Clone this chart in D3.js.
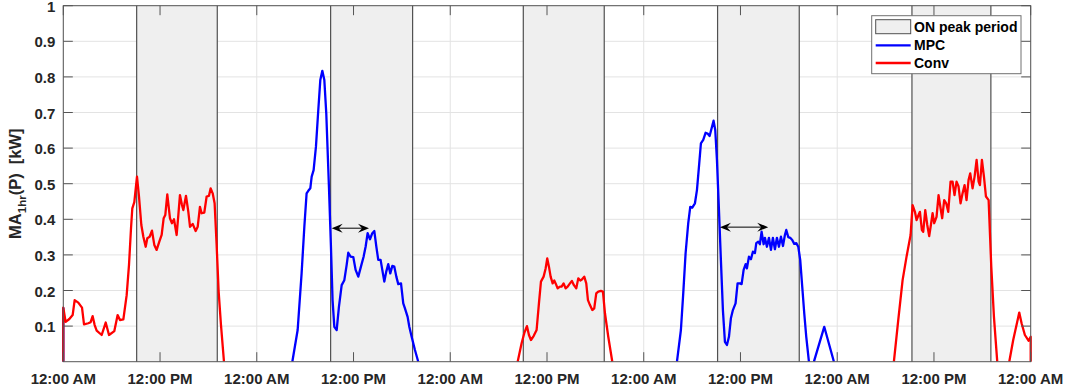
<!DOCTYPE html>
<html><head><meta charset="utf-8">
<script src="https://cdn.jsdelivr.net/npm/d3@7"></script>
<style>
body{margin:0;background:#fff;}
text{font-family:"Liberation Sans",Arial,Helvetica,sans-serif;font-weight:bold;fill:#262626;}
</style>
</head><body>
<svg id="c" width="1068" height="389"></svg>
<script>
// ---------------- data ----------------
const xTickHours = [0,12,24,36,48,60,72,84,96,108,120];
const xTickLabels = ["12:00 AM","12:00 PM","12:00 AM","12:00 PM","12:00 AM","12:00 PM","12:00 AM","12:00 PM","12:00 AM","12:00 PM","12:00 AM"];
const yTicks = [0.1,0.2,0.3,0.4,0.5,0.6,0.7,0.8,0.9,1];
const yTickLabels = ["0.1","0.2","0.3","0.4","0.5","0.6","0.7","0.8","0.9","1"];

// ON peak periods (hours since start)
const peakStart = [9.10, 33.16, 57.06, 81.16, 105.27];
const peakEnd   = [19.10, 43.33, 67.10, 91.29, 115.06];

// MPC series segments [hour, kW]
const mpcSeg0 = [[0,0.152],[0,0]];
const mpcSeg2 = [[28.41,0],[29.07,0.089],[29.56,0.248],[29.90,0.379],[30.18,0.473],[30.39,0.480],[30.64,0.487],[30.81,0.520],[31.05,0.538],[31.34,0.604],[31.63,0.707],[31.88,0.791],[32.13,0.817],[32.38,0.791],[32.62,0.698],[32.95,0.492],[33.20,0.323],[33.40,0.173],[33.62,0.098],[33.91,0.089],[34.19,0.154],[34.53,0.215],[34.86,0.229],[35.15,0.272],[35.35,0.306],[35.64,0.295],[35.97,0.294],[36.26,0.258],[36.59,0.239],[36.92,0.267],[37.25,0.295],[37.50,0.323],[37.75,0.361],[38.04,0.344],[38.33,0.361],[38.58,0.367],[38.83,0.323],[39.07,0.286],[39.36,0.286],[39.57,0.258],[39.82,0.225],[40.06,0.253],[40.31,0.274],[40.56,0.248],[40.81,0.269],[41.06,0.267],[41.31,0.239],[41.55,0.218],[41.89,0.220],[42.17,0.164],[42.38,0.150],[42.71,0.126],[42.92,0.098],[43.21,0.070],[43.62,0.033],[44.03,0]];
const mpcSeg4 = [[76.12,0],[76.61,0.089],[76.90,0.192],[77.19,0.304],[77.52,0.389],[77.77,0.435],[78.02,0.433],[78.35,0.445],[78.60,0.482],[78.85,0.548],[79.09,0.613],[79.38,0.623],[79.67,0.643],[79.92,0.641],[80.17,0.634],[80.42,0.656],[80.66,0.677],[80.87,0.651],[81.08,0.567],[81.33,0.426],[81.57,0.286],[81.82,0.145],[82.07,0.056],[82.32,0.047],[82.57,0.070],[82.81,0.122],[83.06,0.145],[83.39,0.164],[83.64,0.220],[83.89,0.220],[84.14,0.218],[84.39,0.258],[84.64,0.274],[84.80,0.262],[85.05,0.295],[85.30,0.288],[85.54,0.309],[85.79,0.305],[85.96,0.333],[86.20,0.337],[86.41,0.330],[86.62,0.365],[86.87,0.330],[87.03,0.348],[87.28,0.323],[87.53,0.348],[87.78,0.314],[88.02,0.348],[88.27,0.316],[88.52,0.348],[88.77,0.323],[89.02,0.351],[89.27,0.325],[89.51,0.356],[89.68,0.370],[89.93,0.350],[90.17,0.348],[90.42,0.342],[90.67,0.331],[90.92,0.333],[91.17,0.323],[91.41,0.286],[91.66,0.211],[91.91,0.136],[92.16,0.070],[92.49,0]];
const mpcSeg4b = [[93.11,0],[94.39,0.098],[95.59,0]];

// Conventional series segments [hour, kW]
const convSeg1 = [[0,0],[0,0.152],[0.29,0.112],[0.75,0.120],[1.16,0.131],[1.41,0.173],[1.86,0.166],[2.32,0.152],[2.57,0.105],[3.10,0.108],[3.39,0.111],[3.64,0.128],[3.89,0.103],[4.14,0.087],[4.76,0.075],[5.26,0.110],[5.67,0.075],[6.33,0.086],[6.74,0.131],[7.03,0.117],[7.45,0.119],[7.86,0.187],[8.15,0.272],[8.40,0.375],[8.56,0.431],[8.81,0.448],[9.14,0.520],[9.39,0.464],[9.68,0.384],[9.93,0.351],[10.22,0.323],[10.42,0.347],[10.71,0.351],[11.00,0.368],[11.29,0.328],[11.58,0.314],[11.91,0.337],[12.20,0.356],[12.45,0.403],[12.65,0.412],[12.90,0.470],[13.23,0.403],[13.48,0.389],[13.73,0.400],[14.06,0.356],[14.27,0.412],[14.47,0.468],[14.72,0.440],[14.89,0.426],[15.22,0.466],[15.51,0.421],[15.72,0.379],[16.05,0.387],[16.42,0.367],[16.67,0.379],[16.95,0.435],[17.16,0.417],[17.49,0.419],[17.78,0.464],[18.07,0.466],[18.28,0.487],[18.53,0.473],[18.77,0.445],[19.02,0.328],[19.27,0.197],[19.56,0.103],[19.93,0]];
const convSeg3 = [[56.36,0],[56.85,0.052],[57.18,0.080],[57.51,0.100],[57.76,0.075],[58.01,0.061],[58.34,0.072],[58.71,0.089],[59.00,0.164],[59.25,0.225],[59.58,0.239],[59.83,0.262],[60.03,0.290],[60.24,0.267],[60.45,0.239],[60.70,0.220],[60.90,0.228],[61.07,0.220],[61.32,0.206],[61.61,0.211],[61.81,0.211],[62.06,0.220],[62.31,0.206],[62.56,0.211],[62.85,0.220],[63.09,0.227],[63.34,0.215],[63.63,0.206],[63.88,0.234],[64.13,0.228],[64.33,0.231],[64.62,0.239],[64.87,0.220],[65.08,0.173],[65.33,0.159],[65.62,0.145],[65.86,0.150],[66.11,0.192],[66.36,0.197],[66.69,0.199],[66.94,0.197],[67.19,0.136],[67.60,0.070],[68.10,0]];
const convSeg5 = [[103.03,0],[103.57,0.117],[104.11,0.229],[104.60,0.295],[105.10,0.356],[105.35,0.440],[105.64,0.421],[105.84,0.398],[106.09,0.412],[106.26,0.421],[106.50,0.370],[106.67,0.365],[106.92,0.426],[107.17,0.384],[107.41,0.353],[107.62,0.384],[107.83,0.417],[108.03,0.389],[108.32,0.407],[108.57,0.468],[108.82,0.431],[109.02,0.403],[109.27,0.454],[109.52,0.445],[109.77,0.421],[110.06,0.506],[110.31,0.506],[110.55,0.468],[110.80,0.506],[111.05,0.492],[111.30,0.445],[111.55,0.473],[111.80,0.496],[112.04,0.454],[112.29,0.510],[112.50,0.529],[112.79,0.487],[113.04,0.520],[113.29,0.567],[113.54,0.506],[113.70,0.496],[113.95,0.567],[114.20,0.520],[114.45,0.464],[114.78,0.454],[115.11,0.267],[115.44,0.126],[115.85,0]];
const convSeg5b = [[117.34,0],[117.83,0.061],[118.58,0.138],[118.87,0.108],[119.28,0.075],[119.73,0.059],[120,0.070],[120,0]];

// shift arrows (start hour, end hour, kW level)
const arrowStart = [33.29, 81.45];
const arrowEnd   = [37.92, 87.44];
const arrowLevel = [0.375, 0.378];

const legendLabels = ["ON peak period","MPC","Conv"];

// ---------------- drawing ----------------
const L = 63.3, R = 1030.7, T = 5.7, B = 361.7;
const svg = d3.select("#c");
const x = d3.scaleLinear().domain([0,120]).range([L,R]);
const y = d3.scaleLinear().domain([0,1]).range([B,T]);

svg.append("defs").append("clipPath").attr("id","clip")
  .append("rect").attr("x",L-1.5).attr("y",T).attr("width",R-L+3).attr("height",B-T);

// grid
const grid = svg.append("g");
grid.selectAll("line.gx").data(xTickHours).join("line")
  .attr("x1",d=>x(d)).attr("x2",d=>x(d)).attr("y1",T).attr("y2",B)
  .attr("stroke","#e3e3e3").attr("stroke-width",1);
grid.selectAll("line.gy").data(yTicks).join("line")
  .attr("y1",d=>y(d)).attr("y2",d=>y(d)).attr("x1",L).attr("x2",R)
  .attr("stroke","#e3e3e3").attr("stroke-width",1);

// peak shading
const peaks = peakStart.map((s,i)=>({s, e: peakEnd[i]}));
const shade = svg.append("g");
shade.selectAll("rect").data(peaks).join("rect")
  .attr("x",d=>x(d.s)).attr("width",d=>x(d.e)-x(d.s))
  .attr("y",y(1)).attr("height",y(0)-y(1))
  .attr("fill","#efefef");
shade.selectAll("line.l").data(peaks).join("line")
  .attr("x1",d=>x(d.s)).attr("x2",d=>x(d.s)).attr("y1",T).attr("y2",B)
  .attr("stroke","#505050").attr("stroke-width",1.2);
shade.selectAll("line.r").data(peaks).join("line").attr("class","r")
  .attr("x1",d=>x(d.e)).attr("x2",d=>x(d.e)).attr("y1",T).attr("y2",B)
  .attr("stroke","#505050").attr("stroke-width",1.2);

// series
const line = d3.line().x(d=>x(d[0])).y(d=>y(d[1]));
const plot = svg.append("g").attr("clip-path","url(#clip)");
[mpcSeg0, mpcSeg2, mpcSeg4, mpcSeg4b].forEach(seg=>{
  plot.append("path").datum(seg).attr("d",line).attr("fill","none")
    .attr("stroke","#0000ff").attr("stroke-width",2.3).attr("stroke-linejoin","round");
});
[convSeg1, convSeg3, convSeg5, convSeg5b].forEach(seg=>{
  plot.append("path").datum(seg).attr("d",line).attr("fill","none")
    .attr("stroke","#ff0000").attr("stroke-width",2.3).attr("stroke-linejoin","round");
});

// arrows
const arrows = arrowStart.map((s,i)=>({s, e: arrowEnd[i], v: arrowLevel[i]}));
const ag = svg.append("g");
ag.selectAll("line").data(arrows).join("line")
  .attr("x1",d=>x(d.s)+3).attr("x2",d=>x(d.e)-3)
  .attr("y1",d=>y(d.v)).attr("y2",d=>y(d.v))
  .attr("stroke","#000").attr("stroke-width",1);
function head(px, py, dir){
  const len = 11, w = 4.5, back = 7;
  return `M${px},${py} L${px-dir*len},${py-w} L${px-dir*back},${py} L${px-dir*len},${py+w} Z`;
}
ag.selectAll("path.hl").data(arrows).join("path").attr("class","hl")
  .attr("d",d=>head(x(d.s), y(d.v), -1)).attr("fill","#000");
ag.selectAll("path.hr").data(arrows).join("path").attr("class","hr")
  .attr("d",d=>head(x(d.e), y(d.v), 1)).attr("fill","#000");

// axes box and ticks
const axc = "#555555";
const tl = 9.5;
const ax = svg.append("g");
ax.append("rect").attr("x",L).attr("y",T).attr("width",R-L).attr("height",B-T)
  .attr("fill","none").attr("stroke",axc).attr("stroke-width",1);
ax.selectAll("line.tb").data(xTickHours).join("line").attr("class","tb")
  .attr("x1",d=>x(d)).attr("x2",d=>x(d)).attr("y1",B).attr("y2",B-tl).attr("stroke",axc);
ax.selectAll("line.tt").data(xTickHours).join("line").attr("class","tt")
  .attr("x1",d=>x(d)).attr("x2",d=>x(d)).attr("y1",T).attr("y2",T+tl).attr("stroke",axc);
ax.selectAll("line.yl").data(yTicks).join("line").attr("class","yl")
  .attr("y1",d=>y(d)).attr("y2",d=>y(d)).attr("x1",L).attr("x2",L+tl).attr("stroke",axc);
ax.selectAll("line.yr").data(yTicks).join("line").attr("class","yr")
  .attr("y1",d=>y(d)).attr("y2",d=>y(d)).attr("x1",R).attr("x2",R-tl).attr("stroke",axc);

// tick labels
ax.selectAll("text.xl").data(xTickHours).join("text").attr("class","xl")
  .attr("x",d=>x(d)).attr("y",B+22).attr("text-anchor","middle")
  .attr("font-size","15px").text((d,i)=>xTickLabels[i]);
ax.selectAll("text.ylab").data(yTicks).join("text").attr("class","ylab")
  .attr("x",L-8).attr("y",d=>y(d)+6).attr("text-anchor","end")
  .attr("font-size","15px").text((d,i)=>yTickLabels[i]);

// y label
const yl = svg.append("text")
  .attr("transform",`translate(21,${(T+B)/2}) rotate(-90)`)
  .attr("text-anchor","middle").attr("font-size","16.5px");
yl.append("tspan").text("MA");
yl.append("tspan").attr("font-size","11.5px").attr("dy","5").text("1hr");
yl.append("tspan").attr("dy","-5").text("(P)\u00a0\u00a0[kW]");

// legend
const lg = svg.append("g");
lg.append("rect").attr("x",871.7).attr("y",15.7).attr("width",149.3).attr("height",58)
  .attr("fill","#fff").attr("stroke","#707070").attr("stroke-width",1);
lg.append("rect").attr("x",875.7).attr("y",19.7).attr("width",35).attr("height",14)
  .attr("fill","#efefef").attr("stroke","#505050").attr("stroke-width",1);
lg.append("line").attr("x1",875.7).attr("x2",910.7).attr("y1",45.3).attr("y2",45.3)
  .attr("stroke","#0000ff").attr("stroke-width",2.3);
lg.append("line").attr("x1",875.7).attr("x2",910.7).attr("y1",63).attr("y2",63)
  .attr("stroke","#ff0000").attr("stroke-width",2.3);
lg.selectAll("text").data(legendLabels).join("text")
  .attr("x",914).attr("y",(d,i)=>[31.8,50.3,68][i]).attr("font-size","14px")
  .style("fill","#000").text(d=>d);
</script>
</body></html>
